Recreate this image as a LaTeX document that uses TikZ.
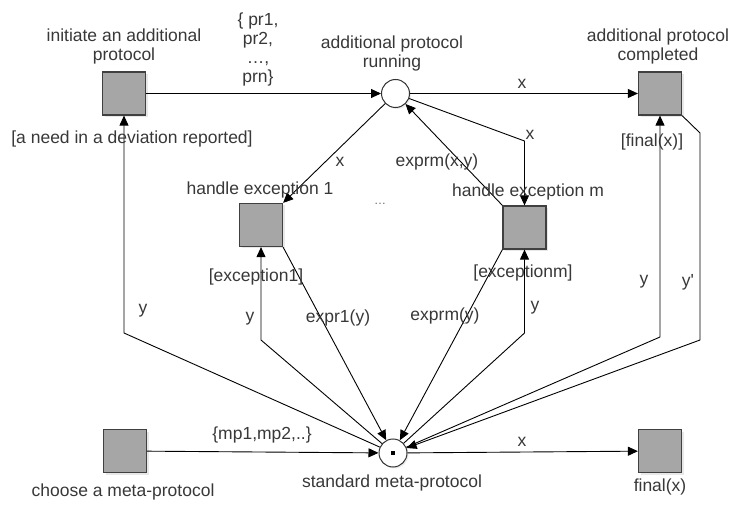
\documentclass[tikz,border=0pt]{standalone}
\usepackage{fontspec}
\setmainfont{Liberation Sans}
\usetikzlibrary{arrows.meta,shadows}
\begin{document}
\begin{tikzpicture}[x=1pt, y=-1pt, font=\fontsize{17.5}{19}\selectfont, text=black!78,
	trans/.style={rectangle, draw=black!75, line width=1.2pt, fill=black!35, minimum size=43pt, inner sep=0pt, drop shadow={shadow xshift=2pt, shadow yshift=-2pt, fill=black!18}},
	place/.style={circle, draw=black!80, line width=1pt, fill=white, minimum size=28pt, inner sep=0pt, drop shadow={shadow xshift=1.5pt, shadow yshift=-1.5pt, fill=black!15}},
	lbl/.style={inner sep=0pt, align=center},
	arc/.style={-{Triangle[length=10pt, width=9pt]}, line width=0.9pt}]
	\useasboundingbox (0,0) rectangle (734,505);
	\node[trans] (tinit) at (124,93.5) {};
	\node[place] (prun) at (395.5,93.5) {};
	\node[trans] (tadd) at (660,93.5) {};
	\node[trans] (th1) at (261,225) {};
	\node[trans] (thm) at (524.5,227.5) {};
	\node[trans] (tchoose) at (125,451) {};
	\node[place] (pstd) at (393,453) {};
	\node[fill=black, minimum size=4pt, inner sep=0pt] (token) at (pstd) {};
	\node[trans] (tfinal) at (660,451) {};
	\coordinate (cinit) at (124,333);
	\coordinate (ch1) at (261,340);
	\coordinate (chm) at (524.5,333);
	\coordinate (chmx) at (524.5,141);
	\coordinate (cadd) at (660,337);
	\coordinate (caddtop) at (700,133);
	\coordinate (caddbot) at (700,340);
	\draw[arc] (tinit) -- (prun);
	\draw[arc] (prun) -- (tadd);
	\draw[arc] (prun) -- (th1.north east);
	\draw[arc] (prun) -- (chmx) -- (thm);
	\draw[arc] (thm.north west) -- (prun);
	\draw[arc] (th1.south east) -- (pstd);
	\draw[arc] (pstd) -- (ch1) -- (th1);
	\draw[arc] (thm.south west) -- (pstd);
	\draw[arc] (pstd) -- (chm) -- (thm);
	\draw[arc] (pstd) -- (cinit) -- (tinit);
	\draw[arc] (pstd) -- (cadd) -- (tadd);
	\draw[arc] (tadd.south east) -- (caddtop) -- (caddbot) -- (pstd);
	\draw[arc] (tchoose) -- (pstd);
	\draw[arc] (pstd) -- (tfinal);
	\node[lbl] (ninit) at (124,46) {initiate an additional\\protocol};
	\node[lbl] (nrun) at (392,53) {additional protocol\\running};
	\node[lbl] (nadd) at (658,46) {additional protocol\\completed};
	\node[lbl] (nh1) at (260,190) {handle exception 1};
	\node[lbl] (nhm) at (528,192) {handle exception m};
	\node[lbl] (nchoose) at (123,492) {choose a meta-protocol};
	\node[lbl] (nstd) at (392,483) {standard meta-protocol};
	\node[lbl] (nfinal) at (660,487) {final(x)};
	\node[lbl, font=\fontsize{12}{14}\selectfont, text=black!60] (ldots) at (380,204) {\ldots};
	\node[lbl] (lpr) at (258,49) {\{ pr1,\\pr2,\\\ldots,\\prn\}};
	\node[lbl] (lrunx) at (522,84) {x};
	\node[lbl] (lh1x) at (340,162) {x};
	\node[lbl] (lhmx) at (530,135) {x};
	\node[lbl] (lexprmxy) at (437,162) {exprm(x,y)};
	\node[lbl] (lexpr1) at (338,318) {expr1(y)};
	\node[lbl] (lh1y) at (250,319) {y};
	\node[lbl] (lexc1) at (256,277) {[exception1]};
	\node[lbl] (lexprm) at (445,316) {exprm(y)};
	\node[lbl] (lhmy) at (535,308) {y};
	\node[lbl] (lexcm) at (523,273) {[exceptionm]};
	\node[lbl] (linity) at (143,311) {y};
	\node[lbl] (lneed) at (132,139) {[a need in a deviation reported]};
	\node[lbl] (laddy) at (644,282) {y};
	\node[lbl] (lfinalx) at (652,142) {[final(x)]};
	\node[lbl] (laddyp) at (688,282) {y\textquotesingle};
	\node[lbl] (lmp) at (262,435) {\{mp1,mp2,..\}};
	\node[lbl] (lstdx) at (522,442) {x};
\end{tikzpicture}
\end{document}
